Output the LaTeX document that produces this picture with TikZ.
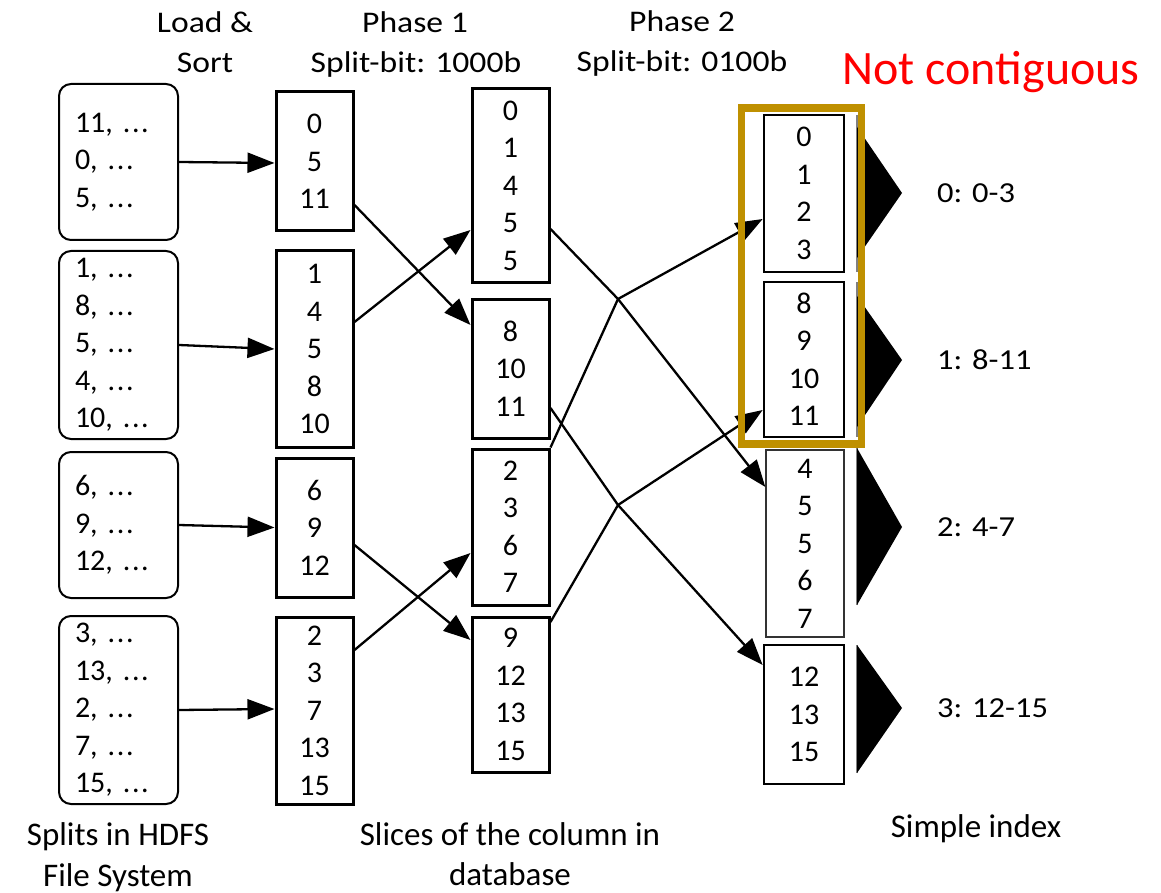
\documentclass[tikz,border=0pt]{standalone}
\usepackage{fontspec}
\setmainfont{Carlito}
\newfontfamily\widefont[FakeStretch=1.12]{Carlito}
\usetikzlibrary{arrows.meta}
\definecolor{gold}{RGB}{191,144,0}
\newcommand\dts{.\kern1.6pt.\kern1.6pt.}

\begin{document}
\begin{tikzpicture}[x=1pt,y=-1pt,
  txt/.style={font=\fontsize{30}{37.5}\selectfont},
  splitbox/.style={txt, draw, line width=2pt, rounded corners=12pt, inner xsep=16pt, inner ysep=0pt,
    minimum width=119pt, align=left, text width=87pt},
  slicebox/.style={txt, draw, line width=3pt, inner sep=0pt, minimum width=77pt, align=center},
  idxbox/.style={txt, draw, line width=2.7pt, inner sep=0pt, minimum width=80pt, align=center},
  flow/.style={line width=2.3pt, -{Triangle[length=27pt,width=20pt]}},
  hdr/.style={font=\widefont\fontsize{30}{40}\selectfont, anchor=base, inner sep=0pt},
  caption/.style={font=\fontsize{33}{41}\selectfont, anchor=base, inner sep=0pt},
  idxlabel/.style={font=\widefont\fontsize{29}{35}\selectfont, anchor=west, inner sep=0pt},
  fanfill/.style={fill=black},
  fanedge/.style={draw=gray, line width=1.2pt},
]
\useasboundingbox (0,0) rectangle (1161,893);

% column headings
\node[hdr] (h1a) at (205,33) {Load \&};
\node[hdr] (h1b) at (205,73) {Sort};
\node[hdr] (h2a) at (415,33) {Phase 1};
\node[hdr] (h2b) at (416,73) {Split-bit: 1000b};
\node[hdr] (h3a) at (682,32) {Phase 2};
\node[hdr] (h3b) at (682,72) {Split-bit: 0100b};
\node[font=\fontsize{48}{48}\selectfont, text=red, anchor=base, inner sep=0pt] (nc) at (991,85) {Not contiguous};

% input splits
\node[splitbox, minimum height=156pt] (a1) at (118.5,162) {11, \dts\\0, \dts\\5, \dts};
\node[splitbox, minimum height=188pt] (a2) at (118.5,345) {1, \dts\\8, \dts\\5, \dts\\4, \dts\\10, \dts};
\node[splitbox, minimum height=146pt] (a3) at (118.5,525) {6, \dts\\9, \dts\\12, \dts};
\node[splitbox, minimum height=188pt] (a4) at (118.5,710) {3, \dts\\13, \dts\\2, \dts\\7, \dts\\15, \dts};

% sorted splits
\node[slicebox, minimum height=139pt] (b1) at (314.5,161.5) {0\\5\\11};
\node[slicebox, minimum height=196pt] (b2) at (314.5,349) {1\\4\\5\\8\\10};
\node[slicebox, minimum height=139pt] (b3) at (314.5,527.5) {6\\9\\12};
\node[slicebox, minimum height=187pt] (b4) at (314.5,710.5) {2\\3\\7\\13\\15};

% slices after phase 1
\node[slicebox, minimum height=193pt] (s1) at (510.5,185.5) {0\\1\\4\\5\\5};
\node[slicebox, minimum height=139pt] (s2) at (510.5,368.5) {8\\10\\11};
\node[slicebox, minimum height=156pt] (s3) at (510.5,527) {2\\3\\6\\7};
\node[slicebox, minimum height=155pt] (s4) at (510.5,694.5) {9\\12\\13\\15};

% slices after phase 2
\node[idxbox, minimum height=157pt] (t0) at (804,193.5) {0\\1\\2\\3};
\node[idxbox, minimum height=155pt] (t1) at (804,359.5) {8\\9\\10\\11};
\node[idxbox, line width=1.3pt, draw=black!80, minimum width=78pt, minimum height=187pt] (t2) at (805,543.5) {4\\5\\5\\6\\7};
\node[idxbox, minimum height=139pt] (t3) at (804,714.5) {12\\13\\15};

% load and sort
\draw[flow] (a1.east) -- (b1.west |- 0,163);
\draw[flow] (a2.east) -- (b2.west);
\draw[flow] (a3.east) -- (b3.west);
\draw[flow] (a4.east) -- (b4.west |- 0,709);

% phase 1
\draw[flow] (b1.east |- 0,205) -- (s2.west |- 0,325);
\draw[flow] (b2.east |- 0,322) -- (s1.west |- 0,230);
\draw[flow] (b3.east |- 0,545) -- (s4.west |- 0,640);
\draw[flow] (b4.east |- 0,650) -- (s3.west |- 0,553);

% phase 2
\coordinate (j1) at (618,299);
\coordinate (j2) at (618,505);
\draw[flow] (s1.east |- 0,229) -- (j1) -- (t2.west |- 0,487);
\draw[flow] (s3.north east) -- (j1) -- (t0.west |- 0,219);
\draw[flow] (s2.east |- 0,408) -- (j2) -- (t3.west |- 0,665);
\draw[flow] (s4.east |- 0,622) -- (j2) -- (t1.west |- 0,410);

% index pointers
\draw[fanedge] (857,115) -- (857,272);
\fill[fanfill] (857,127) -- (902,193) -- (857,258) -- cycle;
\draw[fanedge] (857,282) -- (857,437);
\fill[fanfill] (857,296) -- (902,360) -- (857,427) -- cycle;
\draw[fanedge] (857,448) -- (857,605);
\fill[fanfill] (857,448) -- (902,527) -- (857,605) -- cycle;
\draw[fanedge] (857,645) -- (857,773);
\fill[fanfill] (857,645) -- (902,708) -- (857,773) -- cycle;

\node[idxlabel] (r0) at (937,193) {0: 0-3};
\node[idxlabel] (r1) at (937,360) {1: 8-11};
\node[idxlabel] (r2) at (937,527) {2: 4-7};
\node[idxlabel] (r3) at (937,708) {3: 12-15};

% highlight around the first two slices
\draw[gold, line width=7.5pt] (741.5,108) rectangle (861.5,444);

% captions
\node[caption] (f1a) at (118,845) {Splits in HDFS};
\node[caption] (f1b) at (118,886) {File System};
\node[caption] (f2a) at (510,845) {Slices of the column in};
\node[caption] (f2b) at (510,885) {database};
\node[caption] (f3) at (976,837) {Simple index};
\end{tikzpicture}
\end{document}
